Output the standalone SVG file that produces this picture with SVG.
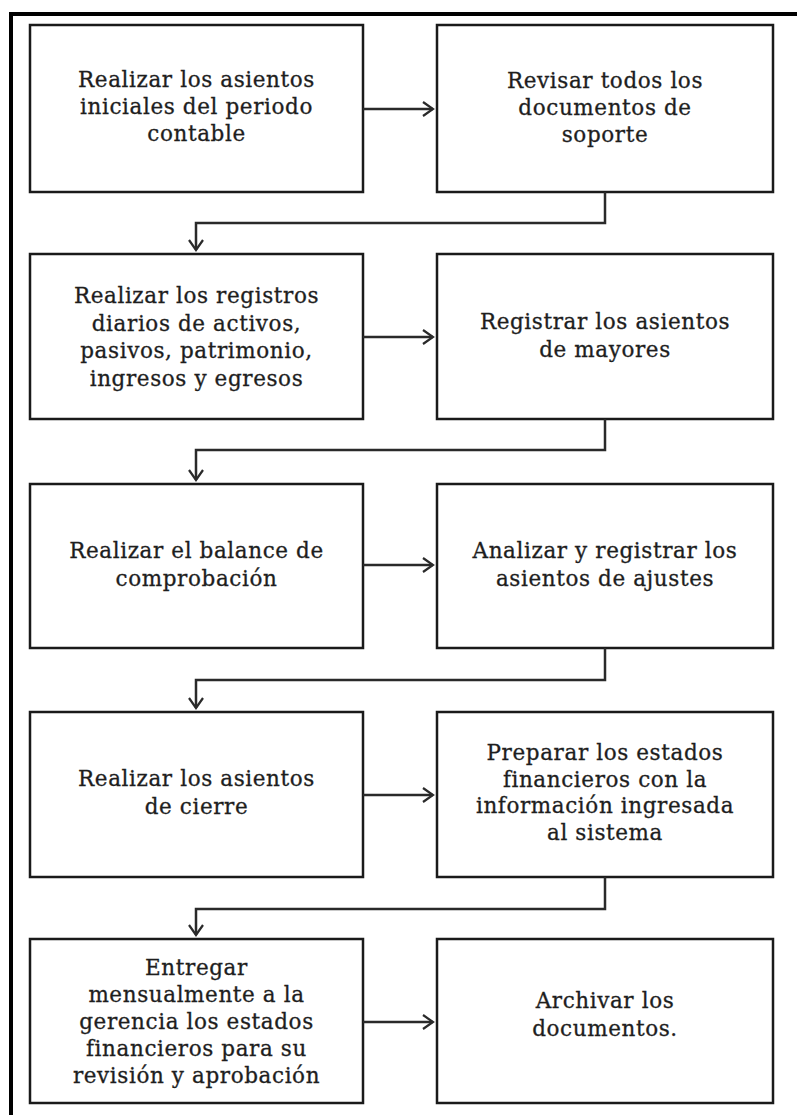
<svg xmlns="http://www.w3.org/2000/svg" width="797" height="1115" viewBox="0 0 797 1115">
<style>
.box{fill:#fff;stroke:#1a1a1a;stroke-width:2.5}
.t{font-family:"DejaVu Serif","Liberation Serif",serif;font-size:21.5px;letter-spacing:0.6px;fill:#1e1e1e;stroke:#1e1e1e;stroke-width:0.3;text-anchor:middle}
.c{fill:none;stroke:#2a2a2a;stroke-width:2.5}
.frame{fill:none;stroke:#000;stroke-width:4}
</style>
<defs>
<marker id="ah" markerWidth="13" markerHeight="16" refX="11" refY="8" orient="auto" markerUnits="userSpaceOnUse">
<path d="M1,1 L11,8 L1,15" fill="none" stroke="#2a2a2a" stroke-width="2.2"/>
</marker>
</defs>
<rect width="797" height="1115" fill="#fff"/>
<path class="frame" d="M11,1115 V14 H797"/>

<g id="n1"><rect class="box" x="30" y="25" width="333" height="167"/>
<text class="t"><tspan x="196.5" y="87">Realizar los asientos</tspan><tspan x="196.5" y="114">iniciales del periodo</tspan><tspan x="196.5" y="141">contable</tspan></text></g>
<g id="n2"><rect class="box" x="437" y="25" width="336" height="167"/>
<text class="t"><tspan x="605" y="88">Revisar todos los</tspan><tspan x="605" y="115">documentos de</tspan><tspan x="605" y="142">soporte</tspan></text></g>

<g id="n3"><rect class="box" x="30" y="254" width="333" height="165"/>
<text class="t"><tspan x="196.5" y="303">Realizar los registros</tspan><tspan x="196.5" y="330.5">diarios de activos,</tspan><tspan x="196.5" y="358">pasivos, patrimonio,</tspan><tspan x="196.5" y="385.5">ingresos y egresos</tspan></text></g>
<g id="n4"><rect class="box" x="437" y="254" width="336" height="165"/>
<text class="t"><tspan x="605" y="329">Registrar los asientos</tspan><tspan x="605" y="357">de mayores</tspan></text></g>

<g id="n5"><rect class="box" x="30" y="484" width="333" height="164"/>
<text class="t"><tspan x="196.5" y="558">Realizar el balance de</tspan><tspan x="196.5" y="586">comprobación</tspan></text></g>
<g id="n6"><rect class="box" x="437" y="484" width="336" height="164"/>
<text class="t"><tspan x="605" y="558">Analizar y registrar los</tspan><tspan x="605" y="586">asientos de ajustes</tspan></text></g>

<g id="n7"><rect class="box" x="30" y="712" width="333" height="165"/>
<text class="t"><tspan x="196.5" y="786">Realizar los asientos</tspan><tspan x="196.5" y="814">de cierre</tspan></text></g>
<g id="n8"><rect class="box" x="437" y="712" width="336" height="165"/>
<text class="t"><tspan x="605" y="760">Preparar los estados</tspan><tspan x="605" y="786.5">financieros con la</tspan><tspan x="605" y="813">información ingresada</tspan><tspan x="605" y="839.5">al sistema</tspan></text></g>

<g id="n9"><rect class="box" x="30" y="939" width="333" height="164"/>
<text class="t"><tspan x="196.5" y="975">Entregar</tspan><tspan x="196.5" y="1002">mensualmente a la</tspan><tspan x="196.5" y="1029">gerencia los estados</tspan><tspan x="196.5" y="1056">financieros para su</tspan><tspan x="196.5" y="1083">revisión y aprobación</tspan></text></g>
<g id="n10"><rect class="box" x="437" y="939" width="336" height="164"/>
<text class="t"><tspan x="605" y="1008">Archivar los</tspan><tspan x="605" y="1036">documentos.</tspan></text></g>

<g id="connectors">
<path class="c" d="M363,109 H433" marker-end="url(#ah)"/>
<path class="c" d="M605,192 V223 H196 V250" marker-end="url(#ah)"/>
<path class="c" d="M363,337 H433" marker-end="url(#ah)"/>
<path class="c" d="M605,419 V450 H196 V480" marker-end="url(#ah)"/>
<path class="c" d="M363,565 H433" marker-end="url(#ah)"/>
<path class="c" d="M605,648 V680 H196 V708" marker-end="url(#ah)"/>
<path class="c" d="M363,795 H433" marker-end="url(#ah)"/>
<path class="c" d="M605,877 V909 H196 V935" marker-end="url(#ah)"/>
<path class="c" d="M363,1022 H433" marker-end="url(#ah)"/>
</g>
</svg>
